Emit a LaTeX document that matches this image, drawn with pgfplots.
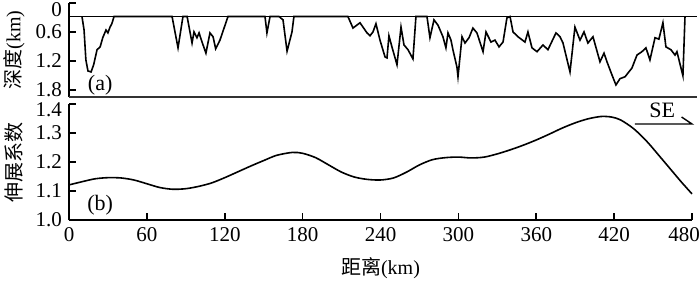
\documentclass[border=0pt]{standalone}
\usepackage{pgfplots}
\pgfplotsset{compat=1.18}
\usepackage{fontspec}
\setmainfont{Liberation Serif}
\newfontfamily\cjk{Noto Sans CJK SC}

\pgfplotsset{
  panel/.style={
    scale only axis, width=311.5pt, xmin=0, xmax=480, clip=false,
    tick align=inside, major tick length=3.5pt,
    axis line style={line width=0.8pt},
    tick style={line width=0.8pt, black},
    tick label style={font=\fontsize{10.5}{11}\selectfont},
    label style={font=\fontsize{11}{12}\selectfont},
    /pgf/number format/assume math mode=true,
    every axis y label/.style={at={(axis description cs:-0.088,0.5)},rotate=90,anchor=center},
  },
  curve/.style={black, line width=0.8pt, mark=none},
}

\begin{document}
\begin{tikzpicture}
\useasboundingbox (-34.5pt,-30pt) rectangle (315.5pt,110pt);

% (a) depth profile
\begin{axis}[panel, at={(0,61.5pt)}, anchor=south west, height=47pt,
  y dir=reverse, ymin=0, ymax=1.95,
  axis x line=none, axis y line*=left,
  ytick={0.6,1.2,1.8},
  extra y ticks={0},
  extra y tick style={tick label style={yshift=-3.5pt}},
  yticklabel style={/pgf/number format/.cd,fixed,precision=1},
  ylabel={{\cjk 深度}(km)}]
\addplot[curve] coordinates {(0,0.28) (484,0.28)};
\addplot[curve] coordinates {
 (10,0.28) (11.6,0.56) (13,1.18) (14.6,1.41) (17,1.43) (19,1.28) (21.6,0.97)
 (24,0.91) (26,0.72) (28.5,0.56) (30,0.62) (31.6,0.50) (33,0.43) (34.7,0.28)
 (79.4,0.28) (84,0.93) (87.8,0.28) (91,0.28) (94.8,0.83) (96.3,0.60) (98.6,0.72)
 (100.2,0.62) (102.5,0.81) (105.5,1.04) (108.6,0.62) (111,0.70) (113,0.95)
 (116.3,0.77) (122.5,0.28)
 (151,0.28) (152.5,0.62) (154.9,0.28)
 (161.8,0.28) (164.9,0.35) (168,1.0) (171.8,0.60) (173.3,0.28)
 (214.9,0.28) (218.8,0.52) (224.2,0.41) (229.6,0.62) (231.9,0.68) (234.2,0.60)
 (236.5,0.43) (239.6,0.77) (243.5,1.12) (245,1.14) (246.5,0.68) (248.8,0.91)
 (252.7,1.28) (255.8,0.50) (258.1,0.87) (261.2,0.97) (265,1.16) (267.3,0.28)
 (275.8,0.28) (278.1,0.72) (281.2,0.35) (284.3,0.46) (288.1,0.70) (290.4,0.93)
 (292,0.62) (294.3,0.77) (295.8,0.97) (298.9,1.33) (299.7,1.53) (302.8,0.70)
 (305.1,0.83) (308.2,0.72) (311.2,0.52) (314.3,0.62) (319,1.01) (321.3,0.60)
 (325.1,0.81) (328.2,0.77) (331.3,0.91) (334.4,0.81) (337.4,0.31) (339.8,0.28)
 (342.1,0.60) (345.9,0.70) (351.3,0.81) (353.6,0.60) (356.7,0.93) (360.6,1.01)
 (365.2,0.87) (369,0.97) (375.2,0.62) (378.3,0.70) (380.6,0.83) (386,1.43)
 (389.8,0.50) (393.7,0.77) (396.8,0.60) (399.8,0.83) (403.7,0.70) (409.1,1.22)
 (412.2,1.04) (414.5,1.22) (418.3,1.49) (421.4,1.70) (424.5,1.57) (428.4,1.53)
 (433.7,1.35) (437.6,1.08) (441.4,1.01) (444.5,0.93) (447.6,1.18) (451.5,0.72)
 (454.5,0.75) (457.6,0.41) (459.9,0.91) (463.8,0.97) (466.9,1.08) (468.4,1.01)
 (473,1.51) (474.6,0.28)};
\draw[line width=0.9pt, black!80] (axis cs:0,1.95) -- (axis cs:484,1.95);
\node[font=\fontsize{11}{12}\selectfont] at (axis cs:24,1.70) {(a)};
\end{axis}

% (b) stretching factor
\begin{axis}[panel, at={(0,0)}, anchor=south west, height=58pt,
  ymin=1.0, ymax=1.4, axis lines*=left,
  xtick={0,60,120,180,240,300,360,420},
  extra x ticks={480},
  extra x tick style={tick label style={xshift=-4pt}},
  ytick={1.0,1.1,1.2,1.3},
  extra y ticks={1.4},
  extra y tick style={tick label style={yshift=-3pt}},
  yticklabel style={/pgf/number format/.cd,fixed,fixed zerofill,precision=1},
  every axis x label/.style={at={(axis description cs:0.5,0)},anchor=center,yshift=-24pt},
  xlabel={{\cjk 距离}(km)},
  ylabel={\cjk 伸展系数}]
\addplot[curve, smooth] coordinates {
 (0,1.121) (10,1.132) (20,1.142) (30,1.146) (40,1.145) (50,1.138) (60,1.125)
 (70,1.112) (80,1.106) (90,1.108) (100,1.116) (110,1.128) (120,1.146)
 (130,1.166) (140,1.186) (150,1.205) (160,1.223) (172,1.233) (180,1.230)
 (190,1.215) (200,1.190) (210,1.165) (220,1.148) (230,1.140) (240,1.138)
 (250,1.145) (260,1.165) (270,1.190) (280,1.208) (290,1.215) (300,1.217)
 (310,1.214) (320,1.217) (330,1.228) (340,1.242) (350,1.258) (360,1.276)
 (370,1.296) (380,1.317) (390,1.335) (400,1.349) (410,1.357) (418,1.355)
 (425,1.345) (435,1.315) (445,1.272) (455,1.220) (465,1.167) (472,1.130)
 (480,1.090)};
\node[font=\fontsize{11}{12}\selectfont] at (axis cs:24,1.05) {(b)};
\node[font=\fontsize{11}{12}\selectfont] at (axis cs:457,1.379) {SE};
\draw[line width=0.7pt] (axis cs:436,1.331) -- (axis cs:480,1.331) -- (axis cs:472,1.355);
\end{axis}
\end{tikzpicture}
\end{document}
